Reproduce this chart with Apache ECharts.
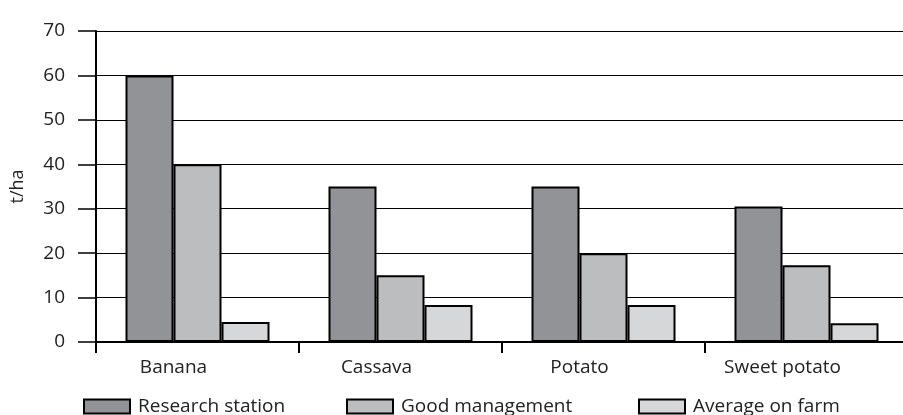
<!DOCTYPE html>
<html><head><meta charset="utf-8">
<script src="https://cdn.jsdelivr.net/npm/echarts@6/dist/echarts.min.js"></script>
<style>html,body{margin:0;padding:0;background:#fff}#c{width:903px;height:415px}</style>
</head><body><div id="c"></div>
<script>
const categories = ['Banana', 'Cassava', 'Potato', 'Sweet potato'];
const researchStation = [60, 35, 35, 30.5];
const goodManagement = [40, 15, 20, 17.3];
const averageOnFarm = [4.5, 8.3, 8.3, 4.2];
const seriesNames = ['Research station', 'Good management', 'Average on farm'];
const yTicks = [0, 10, 20, 30, 40, 50, 60, 70];

const colors = ['#929396', '#bcbdbf', '#d6d7d9'];
const FONT = '"Open Sans", sans-serif';
const chart = echarts.init(document.getElementById('c'));
const mkSeries = (name, data, i) => ({
  name, type: 'bar', data, barWidth: 48, barGap: '0%',
  itemStyle: { color: colors[i], borderColor: '#000', borderWidth: 2 },
  emphasis: { disabled: true }
});
const legendAt = (name, left) => ({
  data: [name], left, top: 397, padding: 0, itemWidth: 46, itemHeight: 14, itemGap: 0,
  icon: 'rect',
  itemStyle: { borderColor: '#000', borderWidth: 2 },
  textStyle: { fontFamily: FONT, fontSize: 19, color: '#222', padding: [0, 0, 0, 3] }
});
chart.setOption({
  animation: false,
  backgroundColor: '#fff',
  grid: { left: 96, top: 31, bottom: 73, width: 812, containLabel: false, outerBoundsMode: 'none' },
  legend: [legendAt(seriesNames[0], 83), legendAt(seriesNames[1], 346), legendAt(seriesNames[2], 638)],
  xAxis: {
    type: 'category', data: categories,
    axisLine: { lineStyle: { color: '#000', width: 2 } },
    axisTick: { show: true, length: 11, lineStyle: { color: '#000', width: 2 } },
    axisLabel: { fontFamily: FONT, fontSize: 19, color: '#222', margin: 16, padding: [0, 48, 0, 0] }
  },
  yAxis: {
    type: 'value', min: yTicks[0], max: yTicks[yTicks.length - 1], interval: 10,
    name: 't/ha', nameLocation: 'middle', nameGap: 69, nameRotate: 90,
    nameTextStyle: { fontFamily: FONT, fontSize: 18, color: '#222' },
    axisLine: { show: true, lineStyle: { color: '#000', width: 2 } },
    axisTick: { show: true, inside: false, length: 18, lineStyle: { color: '#000', width: 1.5 } },
    splitLine: { show: true, lineStyle: { color: '#000', width: 1.2 } },
    axisLabel: { fontFamily: FONT, fontSize: 19, color: '#222', margin: 31 }
  },
  series: [
    mkSeries(seriesNames[0], researchStation, 0),
    mkSeries(seriesNames[1], goodManagement, 1),
    mkSeries(seriesNames[2], averageOnFarm, 2)
  ]
});
</script></body></html>
